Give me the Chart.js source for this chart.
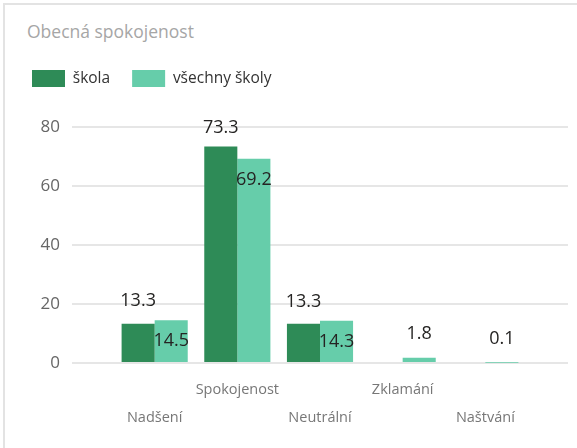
<!DOCTYPE html>
<html>
<head>
<meta charset="utf-8">
<script src="https://cdn.jsdelivr.net/npm/chart.js@4.4.0/dist/chart.umd.min.js"></script>
<style>
html, body { margin: 0; padding: 0; background: #fff; overflow: hidden; }
#frame { position: absolute; left: 3px; top: 3px; width: 620px; height: 520px; border: 2px solid #e3e3e3; box-sizing: border-box; }
#title { position: absolute; left: 27px; top: 19px; font: 17.5px "Open Sans"; color: #a6a6a6; line-height: 24px; }
canvas { position: absolute; left: 0; top: 0; }
</style>
</head>
<body>
<div id="frame"></div>
<div id="title">Obecná spokojenost</div>
<canvas id="chart" width="577" height="448"></canvas>
<script>
const categories = ["Nadšení", "Spokojenost", "Neutrální", "Zklamání", "Naštvání"];
const skola = [13.3, 73.3, 13.3, null, null];
const vsechnySkoly = [14.5, 69.2, 14.3, 1.8, 0.1];
const yTicks = [0, 20, 40, 60, 80];

// empty slot on each side so the groups sit inside the wide plot like in Power BI
const labels = ["", ...categories, ""];

const valueLabels = {
    id: "valueLabels",
    afterDatasetsDraw(chart) {
        const ctx = chart.ctx;
        ctx.save();
        ctx.font = '18px "Open Sans"';
        ctx.fillStyle = "#252423";
        ctx.textAlign = "center";
        ctx.textBaseline = "middle";
        chart.data.datasets.forEach((ds, di) => {
            const meta = chart.getDatasetMeta(di);
            meta.data.forEach((bar, i) => {
                const v = ds.data[i];
                if (v == null) return;
                let y;
                if (di === 0) {
                    const other = chart.getDatasetMeta(1).data[i];
                    y = Math.min(bar.y, other.y) - 19;
                } else {
                    y = (bar.base - bar.y > 30) ? bar.y + 21 : bar.y - 24;
                }
                ctx.fillText(v.toFixed(1), bar.x, y);
            });
        });
        ctx.restore();
    }
};

new Chart(document.getElementById("chart"), {
    type: "bar",
    data: {
        labels: labels,
        datasets: [{
            label: "škola",
            data: [null, ...skola, null],
            backgroundColor: "#2e8b57",
            borderWidth: 0
        }, {
            label: "všechny školy",
            data: [null, ...vsechnySkoly, null],
            backgroundColor: "#66cdaa",
            borderWidth: 0
        }]
    },
    options: {
        responsive: false,
        animation: false,
        categoryPercentage: 0.8,
        barPercentage: 1.0,
        layout: {
            padding: { left: 10, right: 9, top: 48, bottom: 0 }
        },
        plugins: {
            legend: {
                align: "start",
                labels: {
                    boxWidth: 33,
                    boxHeight: 17,
                    padding: 22,
                    color: "#333333",
                    font: { family: "Open Sans", size: 15.5 }
                }
            },
            tooltip: { enabled: false }
        },
        scales: {
            x: {
                offset: false,
                grid: { display: false },
                border: { display: false },
                ticks: {
                    autoSkip: false,
                    maxRotation: 0,
                    padding: 5,
                    color: "#777777",
                    font: { family: "Open Sans", size: 14.5, lineHeight: "28px" },
                    callback: function (value, index) {
                        const name = labels[index];
                        if (!name) return "";
                        return (index % 2 === 0) ? [name] : ["", name];
                    }
                },
                afterFit: s => { s.height = 85; }
            },
            y: {
                min: 0,
                max: 90.1,
                afterBuildTicks: s => { s.ticks = yTicks.map(v => ({ value: v })); },
                grid: { color: "#e6e6e6", lineWidth: 2, drawTicks: false },
                border: { display: false },
                ticks: {
                    padding: 12,
                    color: "#666666",
                    font: { family: "Open Sans", size: 17 }
                },
                afterFit: s => { s.width = 62; }
            }
        }
    },
    plugins: [valueLabels]
});
</script>
</body>
</html>
